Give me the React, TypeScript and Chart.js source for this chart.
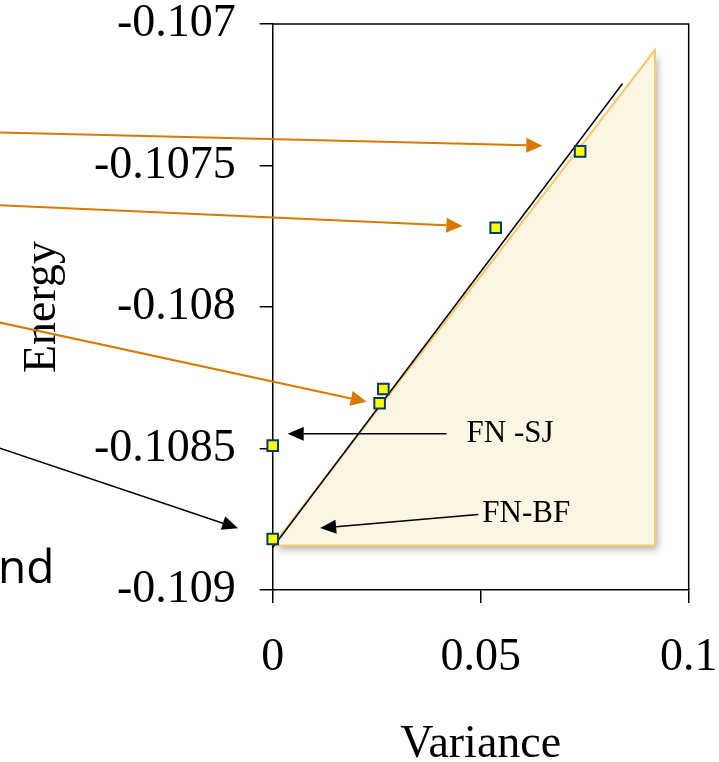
import React, { useEffect, useRef } from "react";
import { Chart, registerables } from "chart.js";

Chart.register(...registerables);

// ---- data ----
const variance = [0, 0, 0.0739, 0.0536, 0.0266, 0.0257];
const energy = [-0.10849, -0.10882, -0.10745, -0.10772, -0.10829, -0.10834];

const fitVariance = [0, 0.0841];
const fitEnergy = [-0.10885, -0.10721];

const regionVariance = [0, 0.0919, 0.0919, 0];
const regionEnergy = [-0.108843, -0.108843, -0.107092, -0.108843];

const xTicks = [0, 0.05, 0.1];
const xTickLabels = ["0", "0.05", "0.1"];
const yTicks = [-0.109, -0.1085, -0.108, -0.1075, -0.107];
const yTickLabels = ["-0.109", "-0.1085", "-0.108", "-0.1075", "-0.107"];

// annotation arrows, in data units (tail -> tip)
const orangeTailX = [-0.0656, -0.0656, -0.0656];
const orangeTailY = [-0.107383, -0.10764, -0.108055];
const orangeTipX = [0.0648, 0.0456, 0.0226];
const orangeTipY = [-0.10743, -0.107714, -0.108335];

const blackTailX = [-0.0656, 0.0418, 0.0494];
const blackTailY = [-0.108499, -0.108448, -0.108733];
const blackTipX = [-0.0083, 0.0036, 0.0114];
const blackTipY = [-0.108782, -0.108448, -0.108781];

const noteText = ["FN -SJ", "FN-BF"];
const noteX = [0.0466, 0.0504];
const noteY = [-0.108448, -0.10873];

const SERIF = '"Liberation Serif", "Times New Roman", serif';
const REGION_FILL = "#FDF5E4";
const REGION_BORDER = "#F9CA6C";
const ORANGE = "#D97A00";

function drawArrow(ctx: CanvasRenderingContext2D, x1: number, y1: number, x2: number, y2: number, color: string, lw: number, hl: number, hw: number) {
  const ang = Math.atan2(y2 - y1, x2 - x1);
  const bx = x2 - Math.cos(ang) * hl;
  const by = y2 - Math.sin(ang) * hl;
  ctx.save();
  ctx.strokeStyle = color;
  ctx.fillStyle = color;
  ctx.lineWidth = lw;
  ctx.beginPath();
  ctx.moveTo(x1, y1);
  ctx.lineTo(bx, by);
  ctx.stroke();
  ctx.beginPath();
  ctx.moveTo(x2, y2);
  ctx.lineTo(bx + Math.sin(ang) * hw / 2, by - Math.cos(ang) * hw / 2);
  ctx.lineTo(bx - Math.sin(ang) * hw / 2, by + Math.cos(ang) * hw / 2);
  ctx.closePath();
  ctx.fill();
  ctx.restore();
}

const decorPlugin = {
  id: "decor",
  beforeDatasetsDraw(chart: any) {
    const { ctx, scales } = chart;
    const x = scales.x;
    const y = scales.y;
    ctx.save();
    ctx.beginPath();
    regionVariance.forEach((v, i) => {
      const px = x.getPixelForValue(v);
      const py = y.getPixelForValue(regionEnergy[i]);
      if (i === 0) ctx.moveTo(px, py);
      else ctx.lineTo(px, py);
    });
    ctx.closePath();
    ctx.shadowColor = "rgba(0,0,0,0.3)";
    ctx.shadowBlur = 7;
    ctx.shadowOffsetX = 3;
    ctx.shadowOffsetY = 4;
    ctx.fillStyle = REGION_FILL;
    ctx.fill();
    ctx.restore();
  },
  afterDraw(chart: any) {
    const { ctx, chartArea, scales } = chart;
    const x = scales.x;
    const y = scales.y;
    // frame top & right
    ctx.save();
    ctx.strokeStyle = "#000";
    ctx.lineWidth = 1.5;
    ctx.beginPath();
    ctx.moveTo(chartArea.left, chartArea.top);
    ctx.lineTo(chartArea.right, chartArea.top);
    ctx.lineTo(chartArea.right, chartArea.bottom);
    ctx.stroke();
    ctx.restore();

    orangeTailX.forEach((_, i) => {
      drawArrow(
        ctx,
        x.getPixelForValue(orangeTailX[i]),
        y.getPixelForValue(orangeTailY[i]),
        x.getPixelForValue(orangeTipX[i]),
        y.getPixelForValue(orangeTipY[i]),
        ORANGE, 2, 16, 15
      );
    });
    blackTailX.forEach((_, i) => {
      drawArrow(
        ctx,
        x.getPixelForValue(blackTailX[i]),
        y.getPixelForValue(blackTailY[i]),
        x.getPixelForValue(blackTipX[i]),
        y.getPixelForValue(blackTipY[i]),
        "#000", 1.5, 16, 14
      );
    });

    ctx.save();
    ctx.fillStyle = "#000";
    ctx.font = `31px ${SERIF}`;
    ctx.textAlign = "left";
    ctx.textBaseline = "middle";
    noteText.forEach((t, i) => {
      ctx.fillText(t, x.getPixelForValue(noteX[i]), y.getPixelForValue(noteY[i]));
    });
    ctx.font = '46px "Open Sans", sans-serif';
    ctx.textBaseline = "alphabetic";
    ctx.fillText("nd", -2, 583);
    ctx.restore();
  },
};

export default function App() {
  const ref = useRef<HTMLCanvasElement | null>(null);
  useEffect(() => {
    if (!ref.current) return;
    const tickFont = { family: SERIF, size: 46 };
    const chart = new Chart(ref.current, {
      type: "scatter",
      data: {
        datasets: [
          {
            type: "line",
            data: regionVariance.map((v, i) => ({ x: v, y: regionEnergy[i] })),
            borderColor: REGION_BORDER,
            borderWidth: 2,
            backgroundColor: REGION_FILL,
            fill: "shape",
            pointRadius: 0,
            tension: 0,
            order: 2,
          } as any,
          {
            type: "line",
            data: fitVariance.map((v, i) => ({ x: v, y: fitEnergy[i] })),
            borderColor: "#000",
            borderWidth: 1.5,
            fill: false,
            pointRadius: 0,
            tension: 0,
            order: 1,
          } as any,
          {
            type: "scatter",
            data: variance.map((v, i) => ({ x: v, y: energy[i] })),
            pointStyle: "rect",
            pointRadius: 7.5,
            backgroundColor: "#FFFF00",
            borderColor: "#003A70",
            borderWidth: 2,
            clip: false,
            order: 0,
          } as any,
        ],
      },
      options: {
        responsive: false,
        animation: false,
        events: [],
        layout: { padding: { top: 24, right: 30.3, left: 0, bottom: 0 } },
        plugins: { legend: { display: false }, tooltip: { enabled: false } },
        scales: {
          x: {
            type: "linear",
            min: 0,
            max: 0.1,
            afterBuildTicks: (s: any) => {
              s.ticks = xTicks.map((v) => ({ value: v }));
            },
            ticks: {
              callback: (v: any) => xTickLabels[xTicks.indexOf(v)],
              font: tickFont,
              color: "#000",
              padding: 27,
              maxRotation: 0,
              autoSkip: false,
            },
            grid: { drawOnChartArea: false, drawTicks: true, tickLength: 13, color: "#000", lineWidth: 1.5 },
            border: { display: true, color: "#000", width: 1.5 },
            title: {
              display: true,
              text: "Variance",
              color: "#000",
              font: { family: SERIF, size: 46, lineHeight: 0.8 },
              padding: { top: 0, bottom: -1 },
            },
            afterFit: (s: any) => {
              s.height = 172;
              s.paddingLeft = 0;
              s.paddingRight = 0;
            },
          },
          y: {
            type: "linear",
            min: -0.109,
            max: -0.107,
            afterBuildTicks: (s: any) => {
              s.ticks = yTicks.map((v) => ({ value: v }));
            },
            ticks: {
              callback: (v: any) => yTickLabels[yTicks.indexOf(v)],
              font: tickFont,
              color: "#000",
              padding: 24,
              autoSkip: false,
            },
            grid: { drawOnChartArea: false, drawTicks: true, tickLength: 13, color: "#000", lineWidth: 1.5 },
            border: { display: true, color: "#000", width: 1.5 },
            title: {
              display: true,
              text: "Energy",
              color: "#000",
              font: { family: SERIF, size: 46, lineHeight: 1.2 },
              padding: { top: 15, bottom: 0 },
            },
            afterFit: (s: any) => {
              s.width = 272.7;
              s.paddingTop = 0;
              s.paddingBottom = 0;
            },
          },
        },
      } as any,
      plugins: [decorPlugin as any],
    });
    return () => chart.destroy();
  }, []);
  return (
    <div style={{ position: "absolute", left: 0, top: 0, width: 719, height: 762, background: "#fff" }}>
      <canvas ref={ref} width={719} height={762} style={{ display: "block" }} />
    </div>
  );
}
